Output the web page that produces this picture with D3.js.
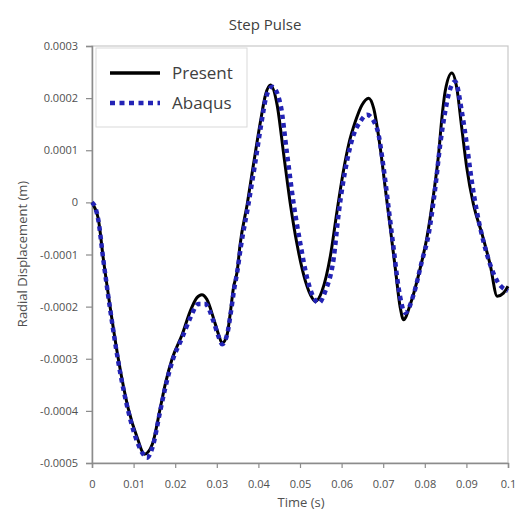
<!DOCTYPE html>
<html>
<head>
<meta charset="utf-8">
<script src="https://cdn.jsdelivr.net/npm/d3@7"></script>
<style>
  body { margin: 0; background: #ffffff; }
</style>
</head>
<body>
<div id="chart"></div>
<script>
// data (time in s, radial displacement in m)
var timePresent = [0, 0.0008, 0.0015, 0.0027, 0.0044, 0.0063, 0.0087, 0.0109, 0.0126, 0.0145, 0.0164, 0.0176, 0.0193, 0.0217, 0.0236, 0.0252, 0.0264, 0.0276, 0.0292, 0.0304, 0.0313, 0.0325, 0.0332, 0.0340, 0.0349, 0.0356, 0.0373, 0.0388, 0.0405, 0.0417, 0.0429, 0.0445, 0.0461, 0.0477, 0.0493, 0.0513, 0.0529, 0.0537, 0.0553, 0.0573, 0.0589, 0.0605, 0.0617, 0.0633, 0.0649, 0.0665, 0.0677, 0.0693, 0.0705, 0.0717, 0.0729, 0.0741, 0.0749, 0.0765, 0.0789, 0.0805, 0.0821, 0.0833, 0.0841, 0.0849, 0.0865, 0.0877, 0.0889, 0.0901, 0.0917, 0.0938, 0.0957, 0.0974, 0.0989, 0.1];
var dispPresent = [0, -0.000013, -0.000031, -0.000107, -0.000203, -0.000299, -0.000395, -0.000452, -0.000483, -0.000464, -0.000395, -0.000349, -0.000299, -0.000253, -0.000209, -0.000183, -0.000177, -0.000186, -0.000222, -0.000253, -0.000270, -0.000253, -0.000215, -0.000164, -0.000132, -0.000081, -0.000004, 0.000072, 0.000155, 0.000206, 0.000225, 0.000187, 0.000091, -0.000004, -0.000081, -0.000151, -0.000183, -0.000190, -0.000170, -0.000103, -0.000017, 0.000063, 0.000111, 0.000155, 0.000187, 0.000200, 0.000181, 0.000104, 0.000027, -0.000049, -0.000126, -0.000202, -0.000225, -0.000196, -0.000126, -0.000068, 0.000015, 0.000091, 0.000161, 0.000213, 0.000248, 0.000219, 0.000142, 0.000066, -0.000004, -0.000062, -0.000119, -0.000180, -0.000174, -0.000161];

var timeAbaqus = [0, 0.0008, 0.0015, 0.0027, 0.0044, 0.0063, 0.0087, 0.0109, 0.0123, 0.0132, 0.0145, 0.0164, 0.0176, 0.0193, 0.0217, 0.0236, 0.0256, 0.0272, 0.0292, 0.0304, 0.0313, 0.0325, 0.0333, 0.0342, 0.0349, 0.0358, 0.0375, 0.0391, 0.0407, 0.0419, 0.0433, 0.0453, 0.0469, 0.0485, 0.0501, 0.0517, 0.0530, 0.0545, 0.0561, 0.0581, 0.0593, 0.0613, 0.0629, 0.0645, 0.0661, 0.0685, 0.0701, 0.0713, 0.0725, 0.0737, 0.0753, 0.0773, 0.0793, 0.0809, 0.0825, 0.0837, 0.0849, 0.0857, 0.0873, 0.0889, 0.0901, 0.0913, 0.0925, 0.0941, 0.0957, 0.0974, 0.1];
var dispAbaqus = [0, -0.000010, -0.000033, -0.000109, -0.000207, -0.000305, -0.000400, -0.000460, -0.000483, -0.000490, -0.000471, -0.000400, -0.000356, -0.000305, -0.000259, -0.000222, -0.000195, -0.000195, -0.000228, -0.000257, -0.000272, -0.000253, -0.000215, -0.000165, -0.000134, -0.000084, -0.000008, 0.000069, 0.000151, 0.000203, 0.000222, 0.000188, 0.000092, -0.000004, -0.000080, -0.000145, -0.000178, -0.000193, -0.000170, -0.000107, -0.000021, 0.000079, 0.000130, 0.000155, 0.000168, 0.000142, 0.000066, -0.000011, -0.000088, -0.000164, -0.000212, -0.000177, -0.000113, -0.000062, 0.000027, 0.000111, 0.000174, 0.000206, 0.000232, 0.000174, 0.000111, 0.000040, -0.000017, -0.000075, -0.000119, -0.000151, -0.000170];

var xTicks = [0, 0.01, 0.02, 0.03, 0.04, 0.05, 0.06, 0.07, 0.08, 0.09, 0.1];
var yTicks = [0.0003, 0.0002, 0.0001, 0, -0.0001, -0.0002, -0.0003, -0.0004, -0.0005];
var seriesNames = ["Present", "Abaqus"];

//declare constants
var width = 516;
var height = 513;
var plotLeft = 92, plotRight = 508, plotTop = 46, plotBottom = 463;
var color_present = "#000000";
var color_abaqus = "#2323b5";
var color_axis = "#8c8c8c";
var color_text = "#505050";
var font = "Open Sans";

var svg = d3.select("div#chart")
  .append("svg")
  .attr("width", width)
  .attr("height", height);

var x_scale = d3.scaleLinear().domain([0, 0.1]).range([plotLeft, plotRight]);
var y_scale = d3.scaleLinear().domain([-0.0005, 0.0003]).range([plotBottom, plotTop]);

// plot frame
svg.append("rect")
  .attr("x", plotLeft)
  .attr("y", plotTop)
  .attr("width", plotRight - plotLeft)
  .attr("height", plotBottom - plotTop)
  .style("fill", "none")
  .style("stroke", "#c8c8c8")
  .style("stroke-width", 1.2);

var x_axis = d3.axisBottom(x_scale)
  .tickValues(xTicks)
  .tickSize(5)
  .tickPadding(12)
  .tickFormat(d => d === 0 ? "0" : String(+d.toFixed(2)));

var gx = svg.append("g")
  .attr("transform", "translate(0," + plotBottom + ")")
  .call(x_axis);

var y_axis = d3.axisLeft(y_scale)
  .tickValues(yTicks)
  .tickSize(6)
  .tickPadding(8)
  .tickFormat(d => d === 0 ? "0" : d.toFixed(4));

var gy = svg.append("g")
  .attr("transform", "translate(" + plotLeft + ",0)")
  .call(y_axis);

[gx, gy].forEach(g => {
  g.select(".domain").style("stroke", color_axis).style("stroke-width", 1.5);
  g.selectAll(".tick line").style("stroke", color_axis).style("stroke-width", 1.2);
  g.selectAll(".tick text")
    .style("font-family", font)
    .style("font-size", "11px")
    .style("fill", color_text);
});

// curves
var line = d3.line()
  .x(d => x_scale(d[0]))
  .y(d => y_scale(d[1]))
  .curve(d3.curveMonotoneX);

var present = timePresent.map((t, i) => [t, dispPresent[i]]);
var abaqus = timeAbaqus.map((t, i) => [t, dispAbaqus[i]]);

svg.append("path")
  .datum(present)
  .attr("d", line)
  .style("fill", "none")
  .style("stroke", color_present)
  .style("stroke-width", 3)
  .style("stroke-linejoin", "round");

svg.append("path")
  .datum(abaqus)
  .attr("d", line)
  .style("fill", "none")
  .style("stroke", color_abaqus)
  .style("stroke-width", 4.5)
  .style("stroke-dasharray", "4.5,4");

//key
var key = svg.append("g");

key.append("rect")
  .attr("x", 96)
  .attr("y", 48)
  .attr("width", 151)
  .attr("height", 79)
  .style("fill", "#ffffff")
  .style("stroke", "#d9d9d9")
  .style("stroke-width", 1);

seriesNames.forEach((name, i) => {
  var yy = 73 + i * 30;
  key.append("line")
    .attr("x1", 110)
    .attr("x2", 160)
    .attr("y1", yy)
    .attr("y2", yy)
    .style("stroke", i === 0 ? color_present : color_abaqus)
    .style("stroke-width", i === 0 ? 3.5 : 4.5)
    .style("stroke-dasharray", i === 0 ? null : "5,4.5");
  key.append("text")
    .attr("x", 172)
    .attr("y", yy + 6)
    .style("font-family", font)
    .style("font-size", "17px")
    .style("fill", "#404040")
    .text(name);
});

//axis and chart titles
svg.append("text")
  .attr("x", 265)
  .attr("y", 30)
  .style("text-anchor", "middle")
  .style("font-family", font)
  .style("font-size", "15px")
  .style("fill", "#404040")
  .text("Step Pulse");

svg.append("text")
  .attr("x", 301)
  .attr("y", 507)
  .style("text-anchor", "middle")
  .style("font-family", font)
  .style("font-size", "13px")
  .style("fill", color_text)
  .text("Time (s)");

svg.append("text")
  .attr("transform", "translate(27,254) rotate(-90)")
  .style("text-anchor", "middle")
  .style("font-family", font)
  .style("font-size", "13px")
  .style("fill", color_text)
  .text("Radial Displacement (m)");
</script>
</body>
</html>
